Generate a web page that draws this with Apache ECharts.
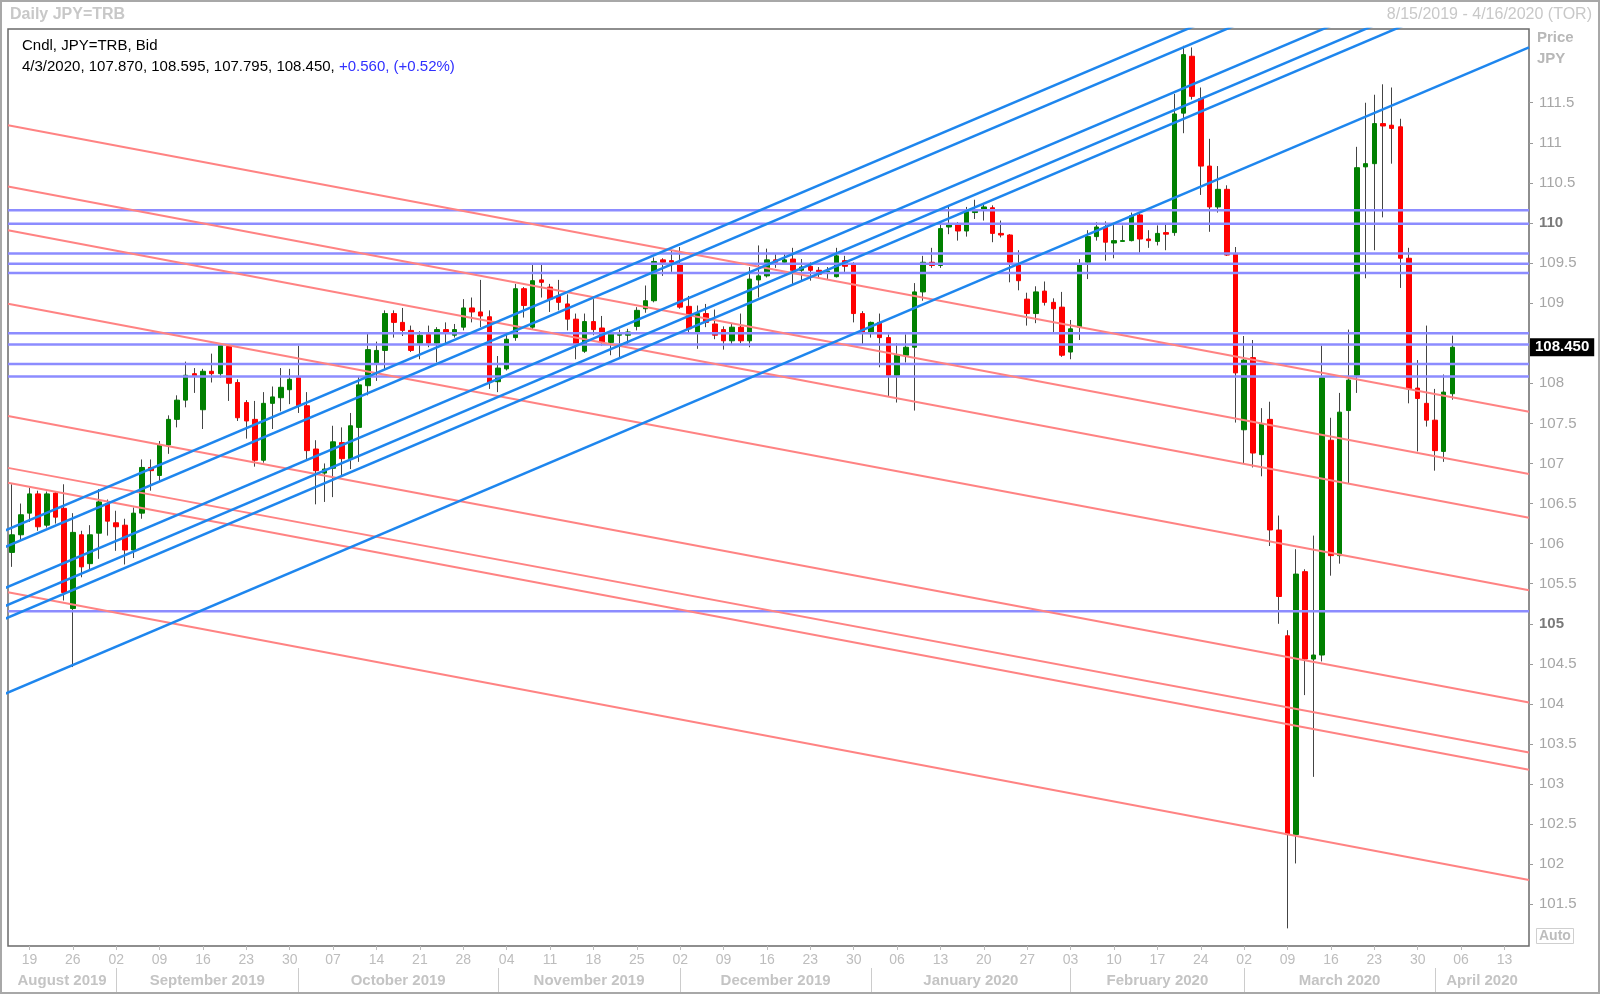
<!DOCTYPE html>
<html><head><meta charset="utf-8">
<script src="https://cdn.jsdelivr.net/npm/echarts@6/dist/echarts.min.js"></script>
<style>
html,body{margin:0;padding:0;background:#fff}
#c{position:absolute;left:0;top:0;width:1600px;height:994px}
#f{position:absolute;left:0;top:0;width:1600px;height:994px;box-sizing:border-box;border:2px solid #a8a8a8;pointer-events:none}
</style>
</head><body><div id="c"></div><div id="f"></div>
<script>
// ---- data (index 0 = 8/15/2019, one slot per weekday) ----
const opens = [
105.89,106.11,106.38,106.62,106.23,106.63,106.44,105.19,106.11,105.75,
106.13,106.50,106.26,106.23,105.92,106.38,106.95,106.85,107.23,107.55,
107.79,108.12,107.67,108.15,108.12,108.46,108.01,107.76,107.55,107.04,
107.75,107.82,107.92,108.07,107.72,107.18,106.88,106.94,107.26,107.06,
107.45,107.97,108.25,108.41,108.87,108.76,108.66,108.50,108.61,108.50,
108.67,108.60,108.70,108.94,108.89,108.83,108.02,108.18,108.57,109.18,
108.70,109.29,109.20,109.09,108.99,108.80,108.40,108.77,108.69,108.51,
108.60,108.60,108.71,108.93,109.03,109.54,109.53,109.48,108.96,108.64,
108.87,108.74,108.67,108.53,108.70,108.53,109.29,109.34,109.54,109.51,
109.55,109.41,109.46,109.41,109.38,109.33,109.53,109.49,108.87,108.62,
108.76,108.57,108.10,108.35,108.45,109.14,109.51,109.47,109.95,109.99,
109.90,110.13,110.17,110.19,109.87,109.85,109.48,109.05,108.87,109.15,
109.01,108.95,108.39,108.70,109.51,109.83,109.95,109.75,109.77,109.78,
110.10,109.80,109.77,109.88,109.88,111.37,112.08,111.55,110.71,110.20,
110.42,109.62,107.42,108.32,107.11,107.55,106.17,104.85,102.37,105.65,
104.56,104.61,107.29,105.85,107.66,108.10,110.70,110.74,111.24,111.22,
111.20,109.56,107.94,107.75,107.54,107.15,107.870];
const highs = [
106.74,106.50,106.70,106.66,106.65,106.65,106.74,106.38,106.16,106.23,
106.68,106.55,106.41,106.31,106.45,107.05,107.05,107.28,107.60,107.85,
108.27,108.19,108.18,108.37,108.50,108.49,108.05,107.79,107.78,107.89,
107.96,108.19,108.18,108.47,107.89,107.29,107.00,107.47,107.45,107.63,
108.08,108.62,108.52,108.91,108.91,108.94,108.72,108.65,108.72,108.70,
108.76,108.74,109.05,109.07,109.29,108.91,108.34,108.60,109.24,109.20,
109.48,109.48,109.24,109.29,109.11,108.87,108.87,109.05,108.84,108.66,
108.67,108.68,108.95,109.22,109.57,109.56,109.66,109.70,109.09,108.97,
108.99,108.92,108.71,108.75,108.87,109.45,109.72,109.68,109.61,109.61,
109.69,109.55,109.51,109.45,109.45,109.69,109.59,109.51,108.90,108.77,
108.87,108.61,108.50,108.61,109.25,109.59,109.69,110.00,110.21,110.01,
110.20,110.29,110.23,110.22,110.03,109.86,109.66,109.13,109.21,109.27,
109.06,109.14,108.79,109.55,109.91,110.01,110.02,109.99,109.97,110.13,
110.12,109.91,109.97,109.99,111.61,112.21,112.19,111.69,111.05,110.71,
110.47,109.70,108.59,108.54,107.69,107.77,106.35,104.92,105.93,105.68,
106.10,108.47,107.57,107.88,108.67,110.95,111.50,111.60,111.73,111.69,
111.30,109.69,108.29,108.72,107.93,108.11,108.595];
const lows = [
105.71,106.04,106.27,106.16,106.20,106.25,105.29,104.46,105.58,105.66,
105.81,106.10,105.91,105.74,105.82,106.31,106.66,106.77,107.12,107.45,
107.70,107.88,107.43,108.01,108.07,107.78,107.53,107.31,106.96,107.01,
107.43,107.65,107.74,107.63,107.04,106.49,106.52,106.58,106.85,106.93,
107.02,107.85,108.03,108.18,108.57,108.59,108.39,108.30,108.45,108.26,
108.49,108.57,108.66,108.76,108.70,107.93,107.89,108.16,108.53,108.82,
108.67,109.07,108.89,108.91,108.66,108.30,108.38,108.60,108.47,108.35,
108.31,108.49,108.66,108.88,109.01,109.34,109.39,108.93,108.62,108.43,
108.70,108.55,108.42,108.49,108.50,108.45,109.07,109.32,109.44,109.49,
109.24,109.28,109.28,109.32,109.30,109.32,109.39,108.76,108.49,108.57,
108.20,107.83,107.76,108.26,107.66,109.03,109.44,109.44,109.86,109.78,
109.83,110.05,110.03,109.76,109.82,109.26,109.16,108.72,108.75,108.97,
108.64,108.33,108.30,108.54,109.30,109.78,109.53,109.56,109.77,109.77,
109.63,109.69,109.72,109.66,109.84,111.12,111.54,110.35,109.89,110.13,
109.59,107.51,107.00,106.95,106.84,105.97,105.00,101.20,102.01,104.11,
103.09,104.53,105.60,105.75,106.75,107.88,109.31,109.66,110.07,110.74,
109.19,107.75,107.15,107.46,106.91,107.02,107.795];
const closes = [
106.11,106.36,106.62,106.21,106.62,106.33,105.39,106.14,105.71,106.11,
106.52,106.28,106.21,105.92,106.38,106.95,106.91,107.23,107.55,107.79,
108.10,108.09,108.15,108.12,108.47,108.00,107.57,107.53,107.04,107.75,
107.83,107.95,108.05,107.72,107.16,106.91,106.93,107.27,107.06,107.47,
107.98,108.42,108.41,108.87,108.76,108.66,108.41,108.60,108.50,108.67,
108.64,108.67,108.94,108.89,108.84,108.01,108.19,108.55,109.18,108.97,
109.28,109.26,109.05,109.01,108.80,108.49,108.77,108.67,108.51,108.62,
108.61,108.64,108.91,109.03,109.52,109.51,109.51,108.95,108.68,108.87,
108.76,108.60,108.53,108.70,108.53,109.30,109.34,109.54,109.51,109.54,
109.41,109.45,109.41,109.36,109.40,109.59,109.46,108.87,108.64,108.76,
108.57,108.10,108.35,108.45,109.14,109.51,109.47,109.93,109.99,109.90,
110.15,110.15,110.20,109.87,109.85,109.51,109.28,108.87,109.14,109.01,
108.93,108.35,108.68,109.48,109.83,109.95,109.76,109.78,109.78,110.09,
109.80,109.78,109.87,109.86,111.36,112.10,111.58,110.71,110.20,110.42,
109.60,108.13,108.29,107.13,107.49,106.17,105.34,102.37,105.62,104.56,
104.61,108.07,105.85,107.64,108.04,110.69,110.74,111.24,111.21,111.18,
109.56,107.93,107.81,107.54,107.16,107.89,108.450];
const lastDate = '4/3/2020';

// x-axis ticks (weekday slot index of each Monday) and their labels
const dayTickIdx = [2,7,12,17,22,27,32,37,42,47,52,57,62,67,72,77,82,87,92,97,102,107,112,117,122,127,132,137,142,147,152,157,162,167,172];
const dayTickLabels = ['19','26','02','09','16','23','30','07','14','21','28','04','11','18','25','02','09','16','23','30','06','13','20','27','03','10','17','24','02','09','16','23','30','06','13'];
const monthStarts = [12,33,56,77,99,122,142,164];
const monthNames = ['August 2019','September 2019','October 2019','November 2019','December 2019','January 2020','February 2020','March 2020','April 2020'];
const yTicks = [101.5,102,102.5,103,103.5,104,104.5,105,105.5,106,106.5,107,107.5,108,108.5,109,109.5,110,110.5,111,111.5];

// drawn studies: horizontal levels, and trendlines as [slot1, price1, slot2, price2]
const hLevels = [110.16,109.99,109.62,109.49,109.375,108.624,108.483,108.242,108.084,105.157];
const redLines = [
  [-0.47,111.219,174.83,107.645],
  [-0.47,110.456,174.83,106.868],
  [-0.47,109.909,174.83,106.322],
  [-0.47,108.993,174.83,105.418],
  [-0.47,107.593,174.83,104.019],
  [-0.47,106.945,174.83,103.395],
  [-0.47,106.758,174.83,103.178],
  [-0.47,105.393,174.83,101.804]];
const blueLines = [
  [-0.84,106.163,174.83,114.228],
  [-0.84,105.955,174.83,114.020],
  [-0.84,105.444,174.83,113.509],
  [-0.84,105.220,174.83,113.285],
  [-0.84,105.062,174.83,113.127],
  [-0.84,104.125,174.83,112.190]];

// ---- chart ----
const FONT = '"Liberation Sans", "DejaVu Sans", sans-serif';
const X_MIN = -0.47, X_MAX = 174.83, Y_MIN = 100.98, Y_MAX = 112.42;
const bounds = [X_MIN].concat(monthStarts, [X_MAX]);
const monthCenters = monthNames.map((_, k) => (bounds[k] + bounds[k + 1]) / 2);
const nearest = (arr, v) => { let b = 0; arr.forEach((a, k) => { if (Math.abs(a - v) < Math.abs(arr[b] - v)) b = k; }); return b; };

const idx = opens.map((_, i) => i);
const wickData = idx.map(i => [i, opens[i], closes[i], lows[i], highs[i]]);
const bodyData = idx.map(i => [i, opens[i], closes[i], Math.min(opens[i], closes[i]), Math.max(opens[i], closes[i])]);
const n = closes.length;
const lastClose = closes[n - 1];
const chg = lastClose - closes[n - 2];
const pct = chg / closes[n - 2] * 100;
const sign = v => (v >= 0 ? '+' : '');
const legendA = [lastDate, opens[n-1].toFixed(3), highs[n-1].toFixed(3), lows[n-1].toFixed(3), lastClose.toFixed(3)].join(', ') + ', ';
const legendB = sign(chg) + chg.toFixed(3) + ', (' + sign(pct) + pct.toFixed(2) + '%)';

const mkLines = (segs, color, width) => segs.map(s => ({
  type: 'line', xAxisIndex: 0, yAxisIndex: 0, data: [[s[0], s[1]], [s[2], s[3]]],
  symbol: 'none', showSymbol: false, silent: true, clip: true, animation: false, z: 5,
  lineStyle: { color: color, width: width }
}));

const series = [
  { type: 'candlestick', xAxisIndex: 0, yAxisIndex: 0, data: wickData, encode: { x: 0, y: [1, 2, 3, 4] },
    barWidth: 1, silent: true, animation: false, z: 2,
    itemStyle: { color: '#444', color0: '#444', borderColor: '#444', borderColor0: '#444', borderColorDoji: '#444', borderWidth: 1 } },
  { type: 'candlestick', xAxisIndex: 0, yAxisIndex: 0, data: bodyData, encode: { x: 0, y: [1, 2, 3, 4] },
    barWidth: 5, silent: true, animation: false, z: 3,
    itemStyle: { color: '#008000', color0: '#ff0000', borderColor: '#008000', borderColor0: '#ff0000', borderColorDoji: '#008000', borderWidth: 1 } },
  { type: 'line', xAxisIndex: 0, yAxisIndex: 0, data: [], silent: true, animation: false, z: 10,
    markLine: { silent: true, symbol: 'none', animation: false, data: [{ yAxis: lastClose }],
      lineStyle: { color: 'rgba(0,0,0,0)', width: 1, type: 'solid' },
      label: { show: true, position: 'end', distance: 1, formatter: lastClose.toFixed(3), backgroundColor: '#000', color: '#fff',
        fontWeight: 'bold', fontSize: 15, fontFamily: FONT, padding: [2, 5, 1, 5] } } }
].concat(mkLines(hLevels.map(p => [X_MIN, p, X_MAX, p]), '#8c8cff', 2.5),
         mkLines(redLines, '#ff8383', 2),
         mkLines(blueLines, '#1e86ee', 2.5));

const option = {
  animation: false,
  backgroundColor: '#fff',
  grid: { left: 8, right: 71, top: 29, bottom: 48, show: true, borderColor: '#6a6a6a', borderWidth: 1.5, backgroundColor: 'transparent' },
  title: [
    { text: 'Daily JPY=TRB', left: 10, top: 7, padding: 0, textStyle: { color: '#c8c8c8', fontSize: 16, fontWeight: 'bold', fontFamily: FONT } },
    { text: '8/15/2019 - 4/16/2020 (TOR)', right: 8, top: 7, padding: 0, textStyle: { color: '#c8c8c8', fontSize: 16, fontWeight: 'normal', fontFamily: FONT } },
    { text: 'Cndl, JPY=TRB, Bid', left: 22, top: 38, padding: 0, textStyle: { color: '#000', fontSize: 15, fontWeight: 'normal', fontFamily: FONT } },
    { text: '{a|' + legendA + '}{b|' + legendB + '}', left: 22, top: 59, padding: 0,
      textStyle: { fontSize: 15, fontWeight: 'normal', fontFamily: FONT,
        rich: { a: { color: '#000', fontSize: 15, fontWeight: 'normal', fontFamily: FONT }, b: { color: '#3030ff', fontSize: 15, fontWeight: 'normal', fontFamily: FONT } } } },
    { text: 'Price', left: 1537, top: 30, padding: 0, textStyle: { color: '#b8b8b8', fontSize: 15, fontWeight: 'bold', fontFamily: FONT } },
    { text: 'JPY', left: 1537, top: 51, padding: 0, textStyle: { color: '#b8b8b8', fontSize: 15, fontWeight: 'bold', fontFamily: FONT } },
    { text: 'Auto', left: 1536, top: 928, padding: [1, 3, 1, 3], borderColor: '#cfcfcf', borderWidth: 1, textStyle: { color: '#bdbdbd', fontSize: 14, fontWeight: 'bold', fontFamily: FONT } }
  ],
  xAxis: [
    { type: 'value', gridIndex: 0, min: X_MIN, max: X_MAX, position: 'bottom',
      axisLine: { show: false, onZero: false }, splitLine: { show: false },
      axisTick: { show: true, customValues: dayTickIdx, length: 4, lineStyle: { color: '#bbb' } },
      axisLabel: { customValues: dayTickIdx, formatter: v => dayTickLabels[nearest(dayTickIdx, v)], color: '#bdbdbd', fontSize: 14, fontFamily: FONT, margin: 7 } },
    { type: 'value', gridIndex: 0, min: X_MIN, max: X_MAX, position: 'bottom', offset: 22,
      axisLine: { show: false, onZero: false }, splitLine: { show: false },
      axisTick: { show: true, customValues: monthStarts, length: 24, lineStyle: { color: '#cccccc', width: 1 } },
      axisLabel: { customValues: monthCenters, formatter: v => monthNames[nearest(monthCenters, v)], color: '#c4c4c4', fontWeight: 'bold', fontSize: 15, fontFamily: FONT, margin: 5 } }
  ],
  yAxis: [
    { type: 'value', gridIndex: 0, position: 'right', min: Y_MIN, max: Y_MAX,
      axisLine: { show: false, onZero: false }, splitLine: { show: false },
      axisTick: { show: true, customValues: yTicks, length: 4, lineStyle: { color: '#999' } },
      axisLabel: { customValues: yTicks, margin: 10, color: '#a6a6a6', fontSize: 15, fontFamily: FONT,
        formatter: v => (Math.abs(v - lastClose) < 0.1 ? '' : (v % 5 === 0 ? '{b|' + v + '}' : String(v))),
        rich: { b: { fontWeight: 'bold', color: '#7a7a7a', fontSize: 15, fontFamily: FONT } } } }
  ],
  series: series
};

const chart = echarts.init(document.getElementById('c'), null, { renderer: 'canvas' });
chart.setOption(option);
</script>
</body></html>
